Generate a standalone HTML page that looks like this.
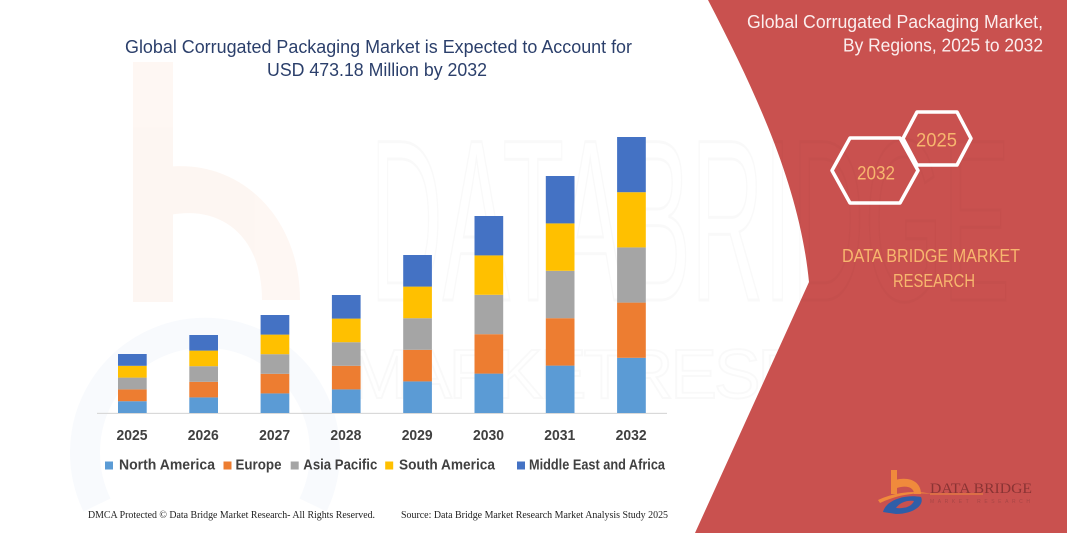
<!DOCTYPE html>
<html>
<head>
<meta charset="utf-8">
<style>
  html,body{margin:0;padding:0;background:#ffffff;width:1067px;height:533px;overflow:hidden;}
  svg{display:block;overflow:hidden;}
</style>
</head>
<body>
<svg width="1067" height="533" viewBox="0 0 1067 533" xmlns="http://www.w3.org/2000/svg">
  <defs>
    <clipPath id="redclip">
      <path d="M708,0 C760,100 800,190 809,282 L695,533 L1067,533 L1067,0 Z"/>
    </clipPath>
  </defs>
  <rect x="0" y="0" width="1067" height="533" fill="#ffffff"/>

  <!-- faint watermarks (left) -->
  <g opacity="0.06">
    <rect x="133" y="62" width="40" height="240" fill="#ed7d31"/>
    <path d="M150,170 C230,150 300,210 300,300 L262,300 C262,235 220,205 170,215 Z" fill="#ed7d31"/>
  </g>
  <path d="M97,505 A120,120 0 1 1 313,505" fill="none" stroke="#4472c4" stroke-opacity="0.035" stroke-width="30"/>
  <text x="370" y="300" font-family="Liberation Sans, sans-serif" font-size="230" fill="none" stroke="#000" stroke-opacity="0.025" stroke-width="3" textLength="640" lengthAdjust="spacingAndGlyphs">DATABRIDGE</text>
  <text x="350" y="398" font-family="Liberation Sans, sans-serif" font-size="70" fill="none" stroke="#000" stroke-opacity="0.025" stroke-width="2" textLength="640" lengthAdjust="spacing">MARKETRESEARCH</text>

  <!-- Right red panel -->
  <path d="M708,0 C760,100 800,190 809,282 L695,533 L1067,533 L1067,0 Z" fill="#c9514f"/>
  <text x="370" y="300" font-family="Liberation Sans, sans-serif" font-size="230" fill="none" stroke="#7a2020" stroke-opacity="0.035" stroke-width="3" textLength="640" lengthAdjust="spacingAndGlyphs" clip-path="url(#redclip)">DATABRIDGE</text>

  <!-- Right panel title -->
  <text x="747" y="28" font-family="Liberation Sans, sans-serif" font-size="18" fill="#fbeeee" textLength="296" lengthAdjust="spacingAndGlyphs">Global Corrugated Packaging Market,</text>
  <text x="843" y="51.5" font-family="Liberation Sans, sans-serif" font-size="18" fill="#fbeeee" textLength="200" lengthAdjust="spacingAndGlyphs">By Regions, 2025 to 2032</text>

  <!-- Hexagons -->
  <polygon points="903,138.5 917,112 957,112 971,138.5 957,165 917,165" fill="none" stroke="#ffffff" stroke-width="3.5" stroke-linejoin="round"/>
  <polygon points="832,170.5 850,138 900,138 918,170.5 900,203 850,203" fill="none" stroke="#ffffff" stroke-width="3.5" stroke-linejoin="round"/>
  <text x="916" y="146.5" font-family="Liberation Sans, sans-serif" font-size="19" fill="#f7b66e" textLength="41" lengthAdjust="spacingAndGlyphs">2025</text>
  <text x="857" y="179.5" font-family="Liberation Sans, sans-serif" font-size="19" fill="#f7b66e" textLength="38" lengthAdjust="spacingAndGlyphs">2032</text>

  <!-- DATA BRIDGE MARKET RESEARCH -->
  <text x="842" y="262" font-family="Liberation Sans, sans-serif" font-size="18.5" fill="#f7b66e" textLength="178" lengthAdjust="spacingAndGlyphs">DATA BRIDGE MARKET</text>
  <text x="893" y="287" font-family="Liberation Sans, sans-serif" font-size="18.5" fill="#f7b66e" textLength="82" lengthAdjust="spacingAndGlyphs">RESEARCH</text>

  <!-- Logo bottom right -->
  <g>
    <rect x="891" y="470" width="6" height="24" fill="#f08a3c"/>
    <path d="M895,480 C910,476 921,482 921,494 L914,494 C914,487 906,485 897,488 Z" fill="#f08a3c"/>
    <path d="M878,500 C895,492 915,490 932,494 C915,492 897,495 880,503 Z" fill="#f08a3c"/>
    <path d="M883,512 C886,500 905,494 921,497 C925,506 912,514 896,514 Z" fill="#2f5ea8"/>
    <path d="M896,508 C900,502 908,500 914,501 C912,506 905,509 896,508 Z" fill="#c9514f"/>
    <text x="930" y="493" font-family="Liberation Serif, serif" font-size="15" fill="#8a3434" textLength="102" lengthAdjust="spacingAndGlyphs">DATA BRIDGE</text>
    <rect x="930" y="493.5" width="53" height="1" fill="#f08a3c"/>
    <text x="930" y="503" font-family="Liberation Sans, sans-serif" font-size="5" fill="#a84646" textLength="100" lengthAdjust="spacing">MARKET RESEARCH</text>
  </g>

  <!-- Chart title -->
  <text x="125" y="53" font-family="Liberation Sans, sans-serif" font-size="18" fill="#2b3f6b" textLength="507" lengthAdjust="spacingAndGlyphs">Global Corrugated Packaging Market is Expected to Account for</text>
  <text x="267" y="76" font-family="Liberation Sans, sans-serif" font-size="18" fill="#2b3f6b" textLength="220" lengthAdjust="spacingAndGlyphs">USD 473.18 Million by 2032</text>

  <!-- Axis line -->
  <rect x="97" y="412.8" width="570" height="1.2" fill="#d9d9d9"/>

  <!-- Bars -->
  <g>
    <rect x="118" y="401.2" width="28.7" height="11.8" fill="#5b9bd5"/>
    <rect x="118" y="389.4" width="28.7" height="11.8" fill="#ed7d31"/>
    <rect x="118" y="377.6" width="28.7" height="11.8" fill="#a5a5a5"/>
    <rect x="118" y="365.8" width="28.7" height="11.8" fill="#ffc000"/>
    <rect x="118" y="354" width="28.7" height="11.8" fill="#4472c4"/>
  </g>
  <g>
    <rect x="189.3" y="397.4" width="28.7" height="15.6" fill="#5b9bd5"/>
    <rect x="189.3" y="381.8" width="28.7" height="15.6" fill="#ed7d31"/>
    <rect x="189.3" y="366.2" width="28.7" height="15.6" fill="#a5a5a5"/>
    <rect x="189.3" y="350.6" width="28.7" height="15.6" fill="#ffc000"/>
    <rect x="189.3" y="335" width="28.7" height="15.6" fill="#4472c4"/>
  </g>
  <g>
    <rect x="260.6" y="393.4" width="28.7" height="19.6" fill="#5b9bd5"/>
    <rect x="260.6" y="373.8" width="28.7" height="19.6" fill="#ed7d31"/>
    <rect x="260.6" y="354.2" width="28.7" height="19.6" fill="#a5a5a5"/>
    <rect x="260.6" y="334.6" width="28.7" height="19.6" fill="#ffc000"/>
    <rect x="260.6" y="315" width="28.7" height="19.6" fill="#4472c4"/>
  </g>
  <g>
    <rect x="331.9" y="389.4" width="28.7" height="23.6" fill="#5b9bd5"/>
    <rect x="331.9" y="365.8" width="28.7" height="23.6" fill="#ed7d31"/>
    <rect x="331.9" y="342.2" width="28.7" height="23.6" fill="#a5a5a5"/>
    <rect x="331.9" y="318.6" width="28.7" height="23.6" fill="#ffc000"/>
    <rect x="331.9" y="295" width="28.7" height="23.6" fill="#4472c4"/>
  </g>
  <g>
    <rect x="403.2" y="381.4" width="28.7" height="31.6" fill="#5b9bd5"/>
    <rect x="403.2" y="349.8" width="28.7" height="31.6" fill="#ed7d31"/>
    <rect x="403.2" y="318.2" width="28.7" height="31.6" fill="#a5a5a5"/>
    <rect x="403.2" y="286.6" width="28.7" height="31.6" fill="#ffc000"/>
    <rect x="403.2" y="255" width="28.7" height="31.6" fill="#4472c4"/>
  </g>
  <g>
    <rect x="474.5" y="373.6" width="28.7" height="39.4" fill="#5b9bd5"/>
    <rect x="474.5" y="334.2" width="28.7" height="39.4" fill="#ed7d31"/>
    <rect x="474.5" y="294.8" width="28.7" height="39.4" fill="#a5a5a5"/>
    <rect x="474.5" y="255.4" width="28.7" height="39.4" fill="#ffc000"/>
    <rect x="474.5" y="216" width="28.7" height="39.4" fill="#4472c4"/>
  </g>
  <g>
    <rect x="545.8" y="365.6" width="28.7" height="47.4" fill="#5b9bd5"/>
    <rect x="545.8" y="318.2" width="28.7" height="47.4" fill="#ed7d31"/>
    <rect x="545.8" y="270.8" width="28.7" height="47.4" fill="#a5a5a5"/>
    <rect x="545.8" y="223.4" width="28.7" height="47.4" fill="#ffc000"/>
    <rect x="545.8" y="176" width="28.7" height="47.4" fill="#4472c4"/>
  </g>
  <g>
    <rect x="617.1" y="357.8" width="28.7" height="55.2" fill="#5b9bd5"/>
    <rect x="617.1" y="302.6" width="28.7" height="55.2" fill="#ed7d31"/>
    <rect x="617.1" y="247.4" width="28.7" height="55.2" fill="#a5a5a5"/>
    <rect x="617.1" y="192.2" width="28.7" height="55.2" fill="#ffc000"/>
    <rect x="617.1" y="137" width="28.7" height="55.2" fill="#4472c4"/>
  </g>

  <!-- Year labels -->
  <g font-family="Liberation Sans, sans-serif" font-size="15" font-weight="bold" fill="#404040">
    <text x="116.5" y="440" textLength="31" lengthAdjust="spacingAndGlyphs">2025</text>
    <text x="187.8" y="440" textLength="31" lengthAdjust="spacingAndGlyphs">2026</text>
    <text x="259.1" y="440" textLength="31" lengthAdjust="spacingAndGlyphs">2027</text>
    <text x="330.4" y="440" textLength="31" lengthAdjust="spacingAndGlyphs">2028</text>
    <text x="401.7" y="440" textLength="31" lengthAdjust="spacingAndGlyphs">2029</text>
    <text x="473" y="440" textLength="31" lengthAdjust="spacingAndGlyphs">2030</text>
    <text x="544.3" y="440" textLength="31" lengthAdjust="spacingAndGlyphs">2031</text>
    <text x="615.6" y="440" textLength="31" lengthAdjust="spacingAndGlyphs">2032</text>
  </g>

  <!-- Legend -->
  <rect x="105" y="461.5" width="8" height="8" fill="#5b9bd5"/>
  <rect x="223.5" y="461.5" width="8" height="8" fill="#ed7d31"/>
  <rect x="290.7" y="461.5" width="8" height="8" fill="#a5a5a5"/>
  <rect x="385.2" y="461.5" width="8" height="8" fill="#ffc000"/>
  <rect x="517" y="461.5" width="8" height="8" fill="#4472c4"/>
  <g font-family="Liberation Sans, sans-serif" font-size="14.5" font-weight="bold" fill="#404040">
    <text x="119" y="469.5" textLength="96" lengthAdjust="spacingAndGlyphs">North America</text>
    <text x="235.5" y="469.5" textLength="46" lengthAdjust="spacingAndGlyphs">Europe</text>
    <text x="303.3" y="469.5" textLength="74" lengthAdjust="spacingAndGlyphs">Asia Pacific</text>
    <text x="399" y="469.5" textLength="96" lengthAdjust="spacingAndGlyphs">South America</text>
    <text x="529" y="469.5" textLength="136" lengthAdjust="spacingAndGlyphs">Middle East and Africa</text>
  </g>

  <!-- Footer -->
  <text x="88" y="518" font-family="Liberation Serif, serif" font-size="10" fill="#222222" textLength="287" lengthAdjust="spacingAndGlyphs">DMCA Protected © Data Bridge Market Research-  All Rights Reserved.</text>
  <text x="401" y="518" font-family="Liberation Serif, serif" font-size="10" fill="#222222" textLength="267" lengthAdjust="spacingAndGlyphs">Source: Data Bridge Market Research  Market Analysis Study 2025</text>
</svg>
</body>
</html>
